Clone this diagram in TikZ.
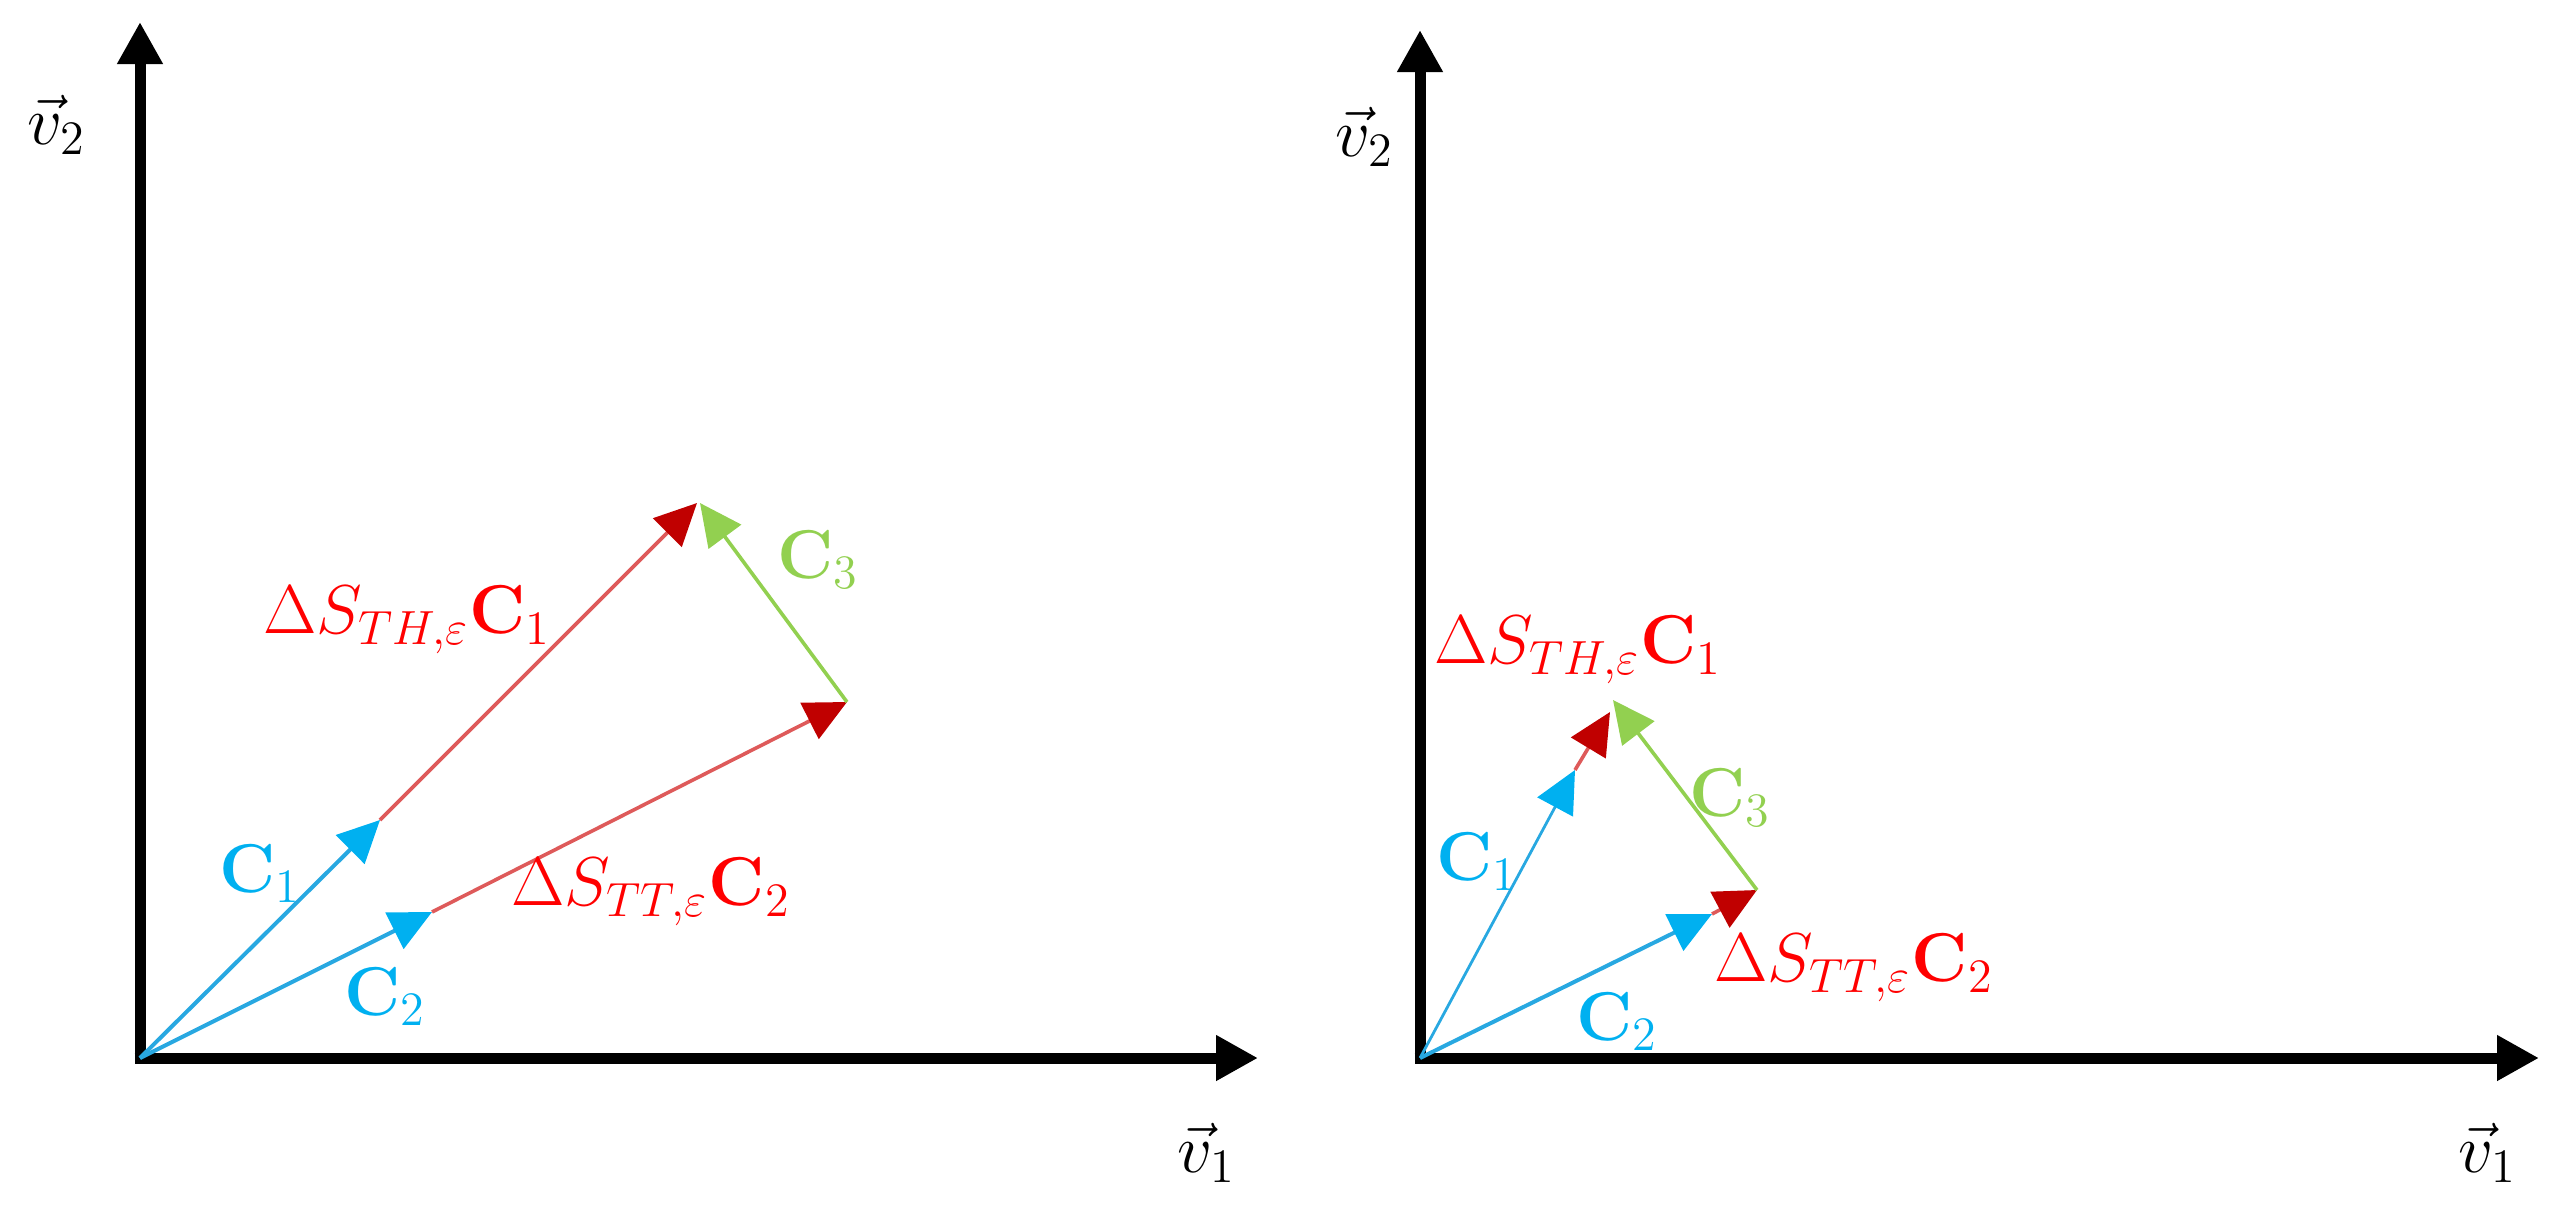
\documentclass[tikz,border=0pt]{standalone}
\usetikzlibrary{arrows.meta}
\definecolor{cblue}{RGB}{0,176,240}
\definecolor{cbline}{RGB}{40,168,225}
\definecolor{cred}{RGB}{255,0,0}
\definecolor{credline}{RGB}{222,90,90}
\definecolor{credhead}{RGB}{192,0,0}
\definecolor{cgreen}{RGB}{146,208,80}
\begin{document}
\begin{tikzpicture}[x=0.25pt,y=-0.25pt,
  axis/.style={line width=2.75pt,-{Triangle[length=10.5pt,width=10.75pt]}},
  bluevec/.style={cbline,line width=1pt,-{Triangle[length=10.5pt,width=10pt,color=cblue]}},
  redvec/.style={credline,line width=0.9pt,-{Triangle[length=10.5pt,width=10pt,color=credhead]}},
  greenvec/.style={cgreen,line width=0.9pt,-{Triangle[length=10.5pt,width=10pt,color=cgreen]}},
  lbl/.style={font=\fontsize{17.5}{20}\selectfont,inner sep=0pt},
]
\useasboundingbox (0,0) rectangle (2560,1222);
% ---------- left panel ----------
\coordinate (O1) at (140,1058);
\coordinate (O1y) at (140,1063.5);
\coordinate (O1x) at (134.5,1058);
\coordinate (Y1) at (140,22);
\coordinate (X1) at (1258,1058);
\coordinate (A1) at (380,820);
\coordinate (B1) at (697,503);
\coordinate (A2) at (432,912);
\coordinate (B2) at (847,702);
\coordinate (G1) at (700,503);
\draw[axis] (O1y) -- (Y1);
\draw[axis] (O1x) -- (X1);
\draw[redvec] (A1) -- (B1);
\draw[redvec] (A2) -- (B2);
\draw[bluevec] (O1) -- (A1);
\draw[bluevec] (O1) -- (A2);
\draw[greenvec] (B2) -- (G1);
\node[lbl] (lv2) at (57,125) {$\vec{v}_2$};
\node[lbl] (lv1) at (1207,1153) {$\vec{v}_1$};
\node[lbl,text=cred] (lTH) at (407,620) {$\Delta S_{TH,\varepsilon}\mathbf{C}_1$};
\node[lbl,text=cred] (lTT) at (651,892) {$\Delta S_{TT,\varepsilon}\mathbf{C}_2$};
\node[lbl,text=cblue] (lC1) at (260,874) {$\mathbf{C}_1$};
\node[lbl,text=cblue] (lC2) at (385,997) {$\mathbf{C}_2$};
\node[lbl,text=cgreen] (lC3) at (818,560) {$\mathbf{C}_3$};
% ---------- right panel ----------
\coordinate (O2) at (1420,1058);
\coordinate (O2y) at (1420,1063.5);
\coordinate (O2x) at (1414.5,1058);
\coordinate (Y2) at (1420,30);
\coordinate (X2) at (2539,1058);
\coordinate (RA1) at (1575,770);
\coordinate (RB1) at (1610,712);
\coordinate (RA2) at (1712,914);
\coordinate (RB2) at (1757,890);
\coordinate (RG1) at (1613,700);
\draw[axis] (O2y) -- (Y2);
\draw[axis] (O2x) -- (X2);
\draw[redvec] (RA1) -- (RB1);
\draw[redvec] (RA2) -- (RB2);
\draw[bluevec,line width=0.7pt] (O2) -- (RA1);
\draw[bluevec] (O2) -- (RA2);
\draw[greenvec] (RB2) -- (RG1);
\node[lbl] (rv2) at (1365,137) {$\vec{v}_2$};
\node[lbl] (rv1) at (2488,1153) {$\vec{v}_1$};
\node[lbl,text=cred] (rTH) at (1578,650) {$\Delta S_{TH,\varepsilon}\mathbf{C}_1$};
\node[lbl,text=cred] (rTT) at (1854,968) {$\Delta S_{TT,\varepsilon}\mathbf{C}_2$};
\node[lbl,text=cblue] (rC1) at (1477,862) {$\mathbf{C}_1$};
\node[lbl,text=cblue] (rC2) at (1617,1022) {$\mathbf{C}_2$};
\node[lbl,text=cgreen] (rC3) at (1730,798) {$\mathbf{C}_3$};
\end{tikzpicture}
\end{document}
